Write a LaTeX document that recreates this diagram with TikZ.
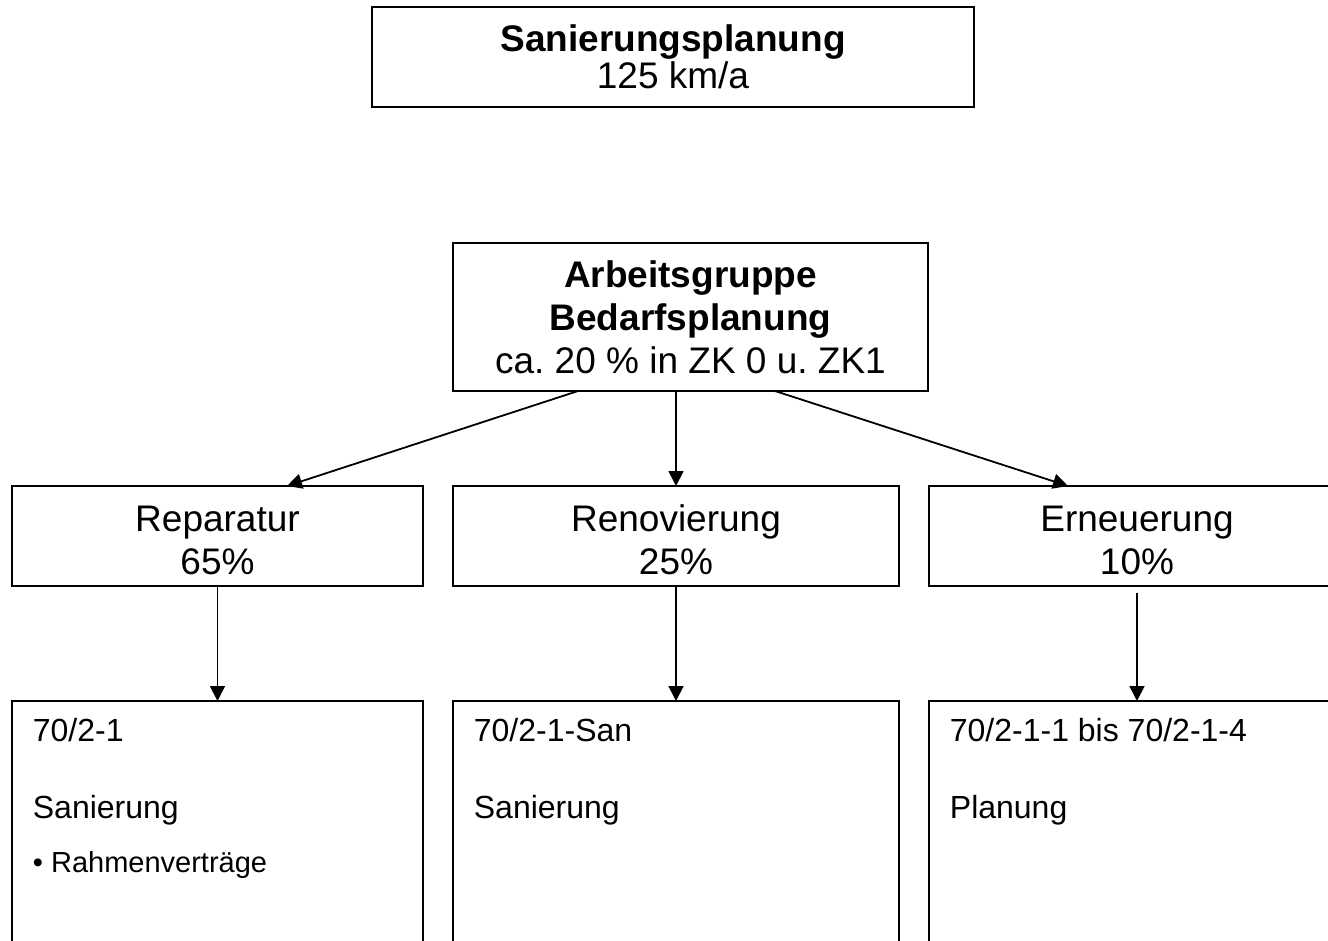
\documentclass[tikz,border=0pt]{standalone}
\usepackage{fontspec}
\setmainfont{Liberation Sans}
\usetikzlibrary{arrows.meta,positioning}

\begin{document}
\begin{tikzpicture}[x=0.5pt,y=-0.5pt,->,>={Triangle[length=7.5pt,width=7.5pt]},
  line width=0.9pt,
  box/.style={draw,-,line width=1pt,inner sep=0pt,outer sep=0pt,align=center,
    font=\fontsize{18.5}{21.5}\selectfont},
  lowbox/.style={draw,-,line width=1pt,inner sep=0pt,outer sep=0pt,anchor=north west,
    minimum height=150pt},
  lowtxt/.style={anchor=base west,inner sep=0pt,font=\fontsize{16}{18}\selectfont}]
  \useasboundingbox (0,0) rectangle (1328,941);
  % top row
  \node[box,minimum width=301pt,minimum height=50pt,
    font=\fontsize{18.5}{18.5}\selectfont] (plan) at (673,57)
    {\textbf{Sanierungsplanung}\\125 km/a};
  \node[box,minimum width=237.5pt,minimum height=74pt] (ag) at (690.5,317)
    {\textbf{Arbeitsgruppe}\\\textbf{Bedarfsplanung}\\ca.\ 20 \% in ZK 0 u.\ ZK1};
  % second row
  \node[box,minimum width=205.5pt,minimum height=50pt] (rep) at (217.5,536)
    {\rule{0pt}{17pt}Reparatur\\65\%};
  \node[box,minimum width=223pt,minimum height=50pt] (ren) at (676,536)
    {\rule{0pt}{17pt}Renovierung\\25\%};
  \node[box,minimum width=208pt,minimum height=50pt] (ern) at (1137,536)
    {\rule{0pt}{17pt}Erneuerung\\10\%};
  % third row
  \node[lowbox,minimum width=205.5pt] (repl) at (12,701) {};
  \node[lowbox,minimum width=223pt] (renl) at (453,701) {};
  \node[lowbox,minimum width=208pt] (ernl) at (929,701) {};
  \node[lowtxt] (repa) at ([xshift=10pt,yshift=-20pt]repl.north west) {70/2-1};
  \node[lowtxt] (repb) at ([xshift=10pt,yshift=-58.5pt]repl.north west) {Sanierung};
  \node[lowtxt,font=\fontsize{14.5}{17}\selectfont] (repc)
    at ([xshift=10pt,yshift=-85.5pt]repl.north west) {• Rahmenverträge};
  \node[lowtxt] (rena) at ([xshift=10pt,yshift=-20pt]renl.north west) {70/2-1-San};
  \node[lowtxt] (renb) at ([xshift=10pt,yshift=-58.5pt]renl.north west) {Sanierung};
  \node[lowtxt] (erna) at ([xshift=10pt,yshift=-20pt]ernl.north west) {70/2-1-1 bis 70/2-1-4};
  \node[lowtxt] (ernb) at ([xshift=10pt,yshift=-58.5pt]ernl.north west) {Planung};
  % arrows
  \draw ([xshift=-56.25pt]ag.south) -- ([xshift=34.75pt]rep.north);
  \draw (ren.north |- ag.south) -- (ren.north);
  \draw ([xshift=42.25pt]ag.south) -- ([xshift=-34.5pt]ern.north);
  \draw (rep.south) -- (repl.north);
  \draw (ren.south) -- (renl.north);
  \draw ([yshift=-3.5pt]ern.south) -- (ernl.north);
\end{tikzpicture}
\end{document}
